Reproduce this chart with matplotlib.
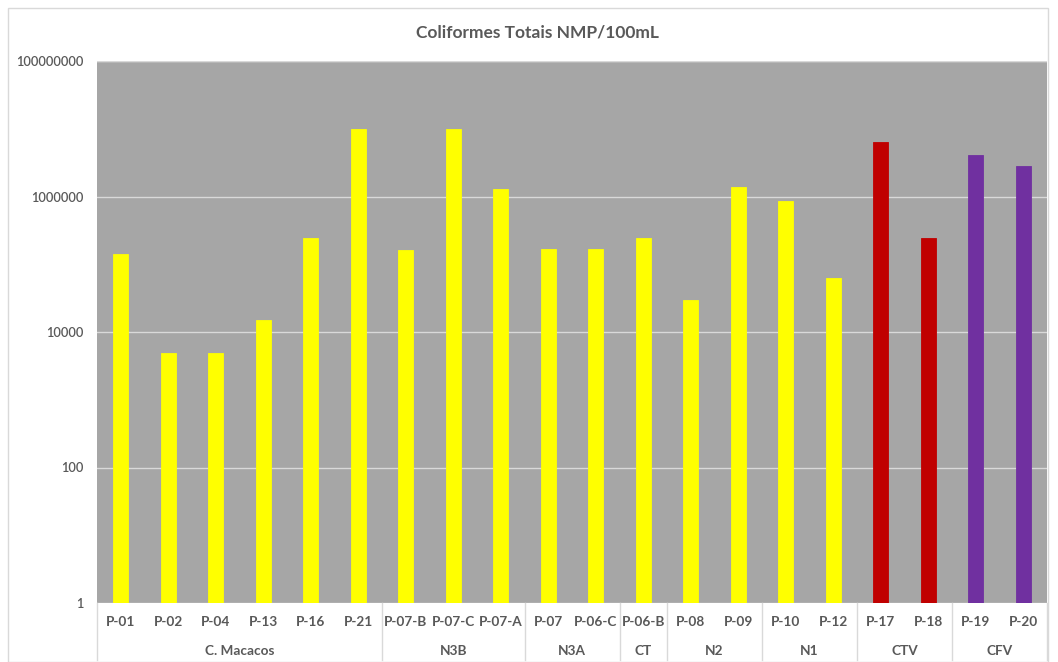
import matplotlib
matplotlib.use("Agg")
import matplotlib.pyplot as plt
from matplotlib.lines import Line2D
from matplotlib.patches import Rectangle
import matplotlib.transforms as mtransforms

points = ["P-01", "P-02", "P-04", "P-13", "P-16", "P-21",
          "P-07-B", "P-07-C", "P-07-A",
          "P-07", "P-06-C",
          "P-06-B",
          "P-08", "P-09",
          "P-10", "P-12",
          "P-17", "P-18",
          "P-19", "P-20"]
values = [140000, 4900, 4900, 15000, 240000, 10000000,
          160000, 10000000, 1300000,
          170000, 170000,
          240000,
          30000, 1400000,
          860000, 62000,
          6300000, 240000,
          4100000, 2800000]
groups = ["C. Macacos", "N3B", "N3A", "CT", "N2", "N1", "CTV", "CFV"]
group_sizes = [6, 3, 2, 1, 2, 2, 2, 2]
group_colors = ["#FFFF00", "#FFFF00", "#FFFF00", "#FFFF00", "#FFFF00", "#FFFF00", "#C00000", "#7030A0"]
yticks = [1, 100, 10000, 1000000, 100000000]
title = "Coliformes Totais NMP/100mL"

FONT = ["Lato", "DejaVu Sans"]
TXT = "#595959"

fig = plt.figure(figsize=(10.58, 6.62), dpi=100)
fig.patch.set_facecolor("white")
# outer chart border
fig.add_artist(Rectangle((8 / 1058, 0.0), 1040 / 1058, 1 - 8 / 662, transform=fig.transFigure,
                         fill=False, edgecolor="#D9D9D9", linewidth=1.0))

ax = fig.add_axes([97 / 1058, 1 - 603 / 662, (1047 - 97) / 1058, (603 - 61) / 662])
ax.set_facecolor("#A6A6A6")

colors = []
for c, n in zip(group_colors, group_sizes):
    colors += [c] * n
x = list(range(len(points)))
ax.bar(x, values, width=0.31, color=colors, edgecolor=colors, linewidth=0.6, zorder=3)

ax.set_yscale("log")
ax.set_ylim(1, 1e8)
ax.set_xlim(-0.5, len(points) - 0.5)
ax.set_yticks(yticks)
ax.set_yticklabels([str(v) for v in yticks], fontfamily=FONT, fontsize=9.3,
                   fontweight="semibold", color=TXT)
ax.yaxis.set_minor_locator(matplotlib.ticker.NullLocator())
ax.tick_params(axis="y", length=0, pad=10)
ax.set_xticks([])
ax.grid(axis="y", color="#D9D9D9", linewidth=1.0, zorder=1)
for s in ax.spines.values():
    s.set_visible(False)
ax.axhline(1e8, color="#D9D9D9", linewidth=1.0, zorder=2)

trans = mtransforms.blended_transform_factory(ax.transData, ax.transAxes)
axh = (603 - 61)
def ay(py):
    return (603 - py) / axh

for xi, lab in zip(x, points):
    ax.text(xi, ay(622), lab, transform=trans, ha="center", va="center",
            fontfamily=FONT, fontsize=9.8, fontweight="bold", color=TXT)

start = 0
bounds = [-0.5]
for g, n in zip(groups, group_sizes):
    center = start + (n - 1) / 2
    ax.text(center, ay(651), g, transform=trans, ha="center", va="center",
            fontfamily=FONT, fontsize=9.8, fontweight="bold", color=TXT)
    start += n
    bounds.append(start - 0.5)

for b in bounds:
    ax.add_line(Line2D([b, b], [0, ay(660)], transform=trans, color="#D9D9D9",
                       linewidth=1.0, clip_on=False))

fig.text(537 / 1058, 1 - 33 / 662, title, ha="center", va="center", fontfamily=FONT,
         fontsize=12.5, fontweight="bold", color=TXT)

fig.savefig("out.png", dpi=100)
